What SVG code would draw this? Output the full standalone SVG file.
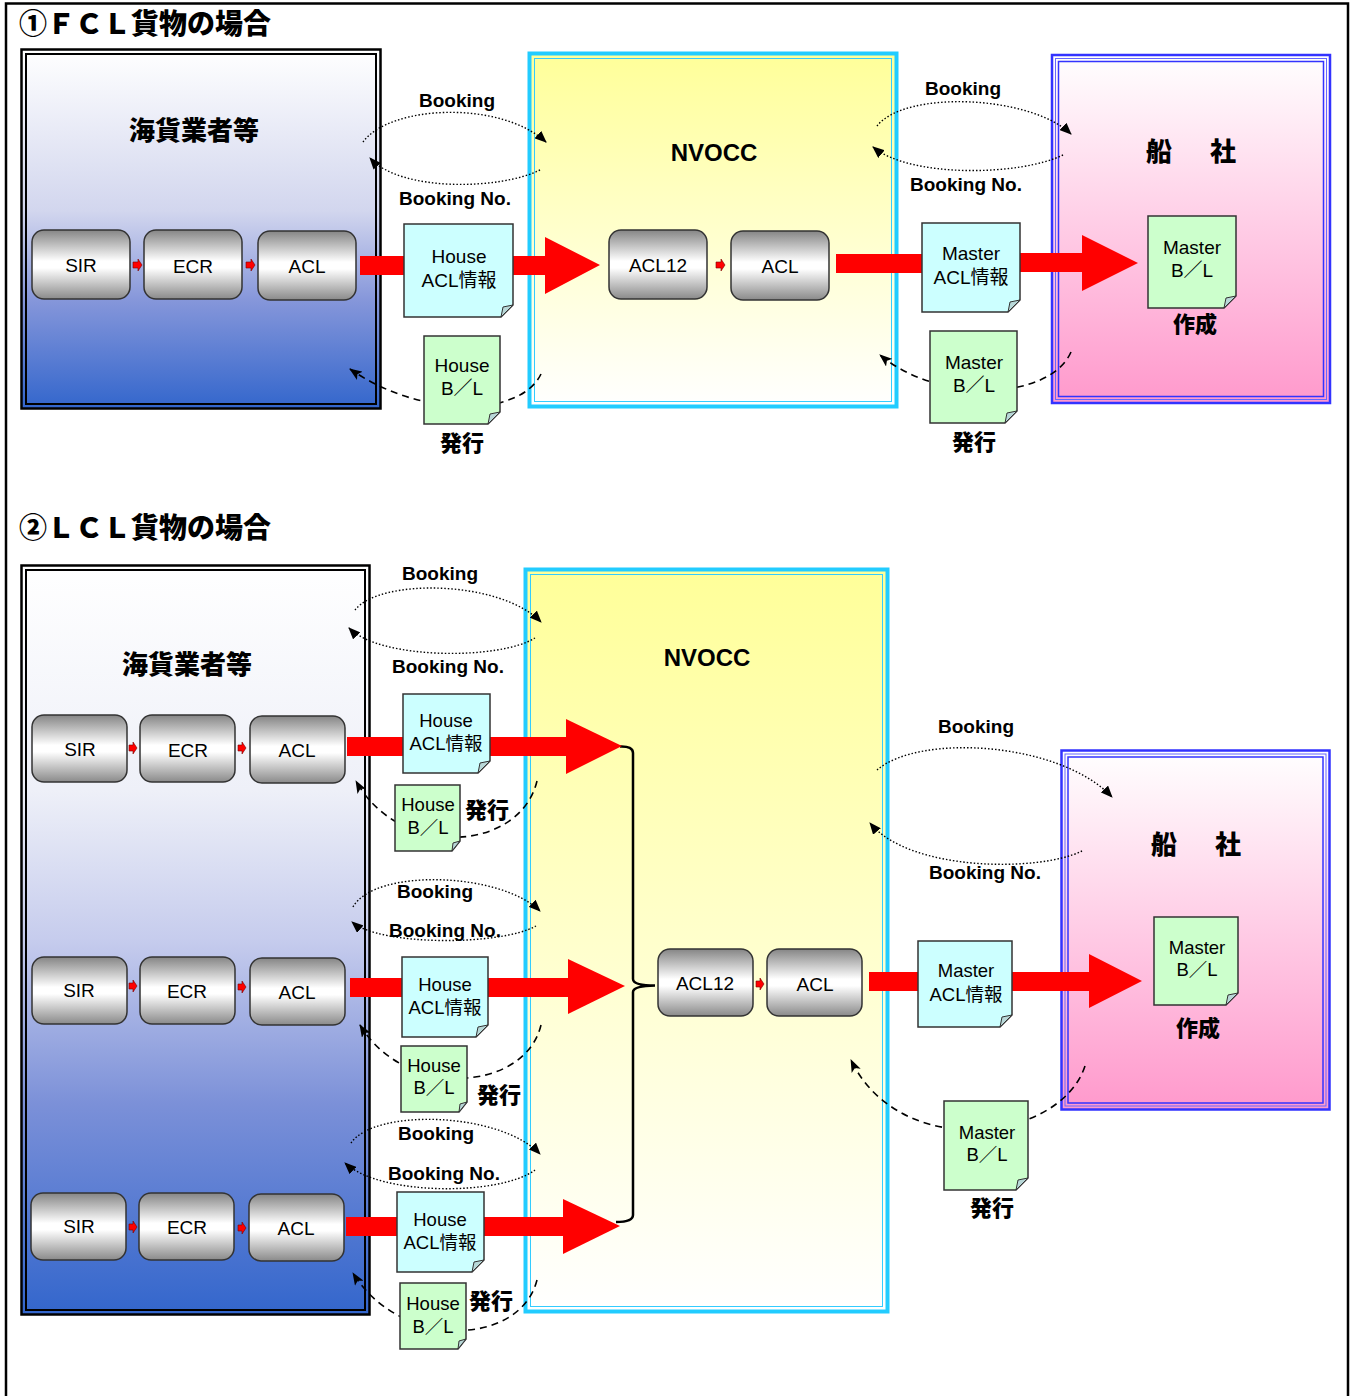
<svg xmlns="http://www.w3.org/2000/svg" width="1356" height="1396" viewBox="0 0 1356 1396">
<defs>
<linearGradient id="gBlue" x1="0" y1="0" x2="0" y2="1">
<stop offset="0" stop-color="#ffffff"/><stop offset="0.45" stop-color="#d2d6ee"/><stop offset="0.7" stop-color="#8596da"/><stop offset="1" stop-color="#3366cc"/>
</linearGradient>
<linearGradient id="gBlue2" x1="0" y1="0" x2="0" y2="1">
<stop offset="0" stop-color="#ffffff"/><stop offset="0.3" stop-color="#eef0f8"/><stop offset="0.5" stop-color="#c6cced"/><stop offset="0.72" stop-color="#7b90d8"/><stop offset="1" stop-color="#3366cc"/>
</linearGradient>
<linearGradient id="gYel" x1="0" y1="0" x2="0" y2="1">
<stop offset="0" stop-color="#ffff99"/><stop offset="1" stop-color="#ffffff"/>
</linearGradient>
<linearGradient id="gPink" x1="0" y1="0" x2="0" y2="1">
<stop offset="0" stop-color="#ffffff"/><stop offset="1" stop-color="#ff99cc"/>
</linearGradient>
<linearGradient id="gGray" x1="0" y1="0" x2="0" y2="1">
<stop offset="0" stop-color="#858585"/><stop offset="0.45" stop-color="#ffffff"/><stop offset="0.55" stop-color="#ffffff"/><stop offset="1" stop-color="#8a8a8a"/>
</linearGradient>
<marker id="mDot" markerWidth="12" markerHeight="10" refX="11" refY="5" orient="auto" markerUnits="userSpaceOnUse">
<path d="M0,0 L12,5 L0,10 Z" fill="#000"/>
</marker>
<marker id="mDash" markerWidth="13" markerHeight="10" refX="12" refY="5" orient="auto" markerUnits="userSpaceOnUse">
<path d="M0,0 L13,5 L0,10 L3,5 Z" fill="#000"/>
</marker>
<style>
text{font-family:"Liberation Sans","Noto Sans CJK JP",sans-serif;fill:#000;text-anchor:middle}
.ttl{font-family:"Noto Sans CJK JP",sans-serif;font-weight:900;font-size:28px;text-anchor:start}
.hd{font-family:"Noto Sans CJK JP",sans-serif;font-weight:900;font-size:26px}
.sj{letter-spacing:6px}
.nv{font-weight:bold;font-size:24px}
.bx{font-size:19px}
.dc{font-size:19px}
.dc2{font-size:18.5px}
.bk{font-weight:bold;font-size:19px}
.jb{font-family:"Noto Sans CJK JP",sans-serif;font-weight:900;font-size:22px}
.rb{fill:url(#gGray);stroke:#333;stroke-width:1.5}
.doc{fill:#ccffff;stroke:#333;stroke-width:1.5}
.docg{fill:#ccffcc;stroke:#333;stroke-width:1.5}
.fold{fill:#b8d8d8;stroke:#333;stroke-width:1}
.red{fill:#ff0000}
.sa{fill:#ff0000;stroke:#700;stroke-width:0.6}
.dot{fill:none;stroke:#000;stroke-width:1.4;stroke-dasharray:1.5 2;marker-end:url(#mDot)}
.dash{fill:none;stroke:#000;stroke-width:1.6;stroke-dasharray:7 5;marker-end:url(#mDash)}
</style>
</defs>

<rect width="1356" height="1396" fill="#fff"/>
<g id="frame" fill="none" stroke="#000" stroke-width="2.5">
<path d="M6,1396 V3.5 H1348 V1396"/>
</g>

<!-- ===== Section 1 ===== -->
<text class="ttl" x="19" y="34">①ＦＣＬ貨物の場合</text>

<g id="kaika1">
<rect x="21.5" y="49.5" width="359" height="359" fill="url(#gBlue)" stroke="#000" stroke-width="2.5"/>
<rect x="26" y="54" width="350" height="350" fill="none" stroke="#000" stroke-width="2"/>
<text class="hd" x="194" y="140">海貨業者等</text>
</g>

<g id="nvocc1">
<rect x="529.5" y="53.5" width="367" height="353" fill="url(#gYel)" stroke="#22ccff" stroke-width="4"/>
<rect x="534.5" y="58.5" width="357" height="343" fill="none" stroke="#33ccff" stroke-width="1"/>
<text class="nv" x="714" y="161">NVOCC</text>
</g>

<g id="senja1">
<rect x="1052" y="55" width="278" height="348" fill="url(#gPink)" stroke="#3333ff" stroke-width="2.5"/>
<rect x="1055.5" y="58.5" width="271" height="341" fill="none" stroke="#6666ff" stroke-width="1"/>
<rect x="1058.5" y="61.5" width="265" height="335" fill="none" stroke="#3333ff" stroke-width="1.5"/>
<text class="hd sj" x="1194" y="161">船　社</text>
</g>

<g id="connectors1">
<path class="dot" d="M363,142 C390,105 500,100 546,142"/>
<path class="dot" d="M540,170 C500,190 400,192 370,158"/>
<path class="dot" d="M877,126 C905,90 1030,95 1071,134"/>
<path class="dot" d="M1063,155 C1020,176 910,178 873,147"/>
<path class="dash" d="M541,374 C520,418 420,418 350,369"/>
<path class="dash" d="M1071,352 C1050,400 940,405 880,355"/>
<rect class="red" x="360" y="256" width="50" height="19"/>
<polygon class="red" points="513,256 545,256 545,237 600,265 545,294 545,275 513,275"/>
<rect class="red" x="836" y="254" width="90" height="19"/>
<polygon class="red" points="1020,253 1082,253 1082,235 1138,263 1082,291 1082,272 1020,272"/>
<polygon class="sa" points="133,262 138,262 138,259 142,265 138,271 138,268 133,268"/>
<polygon class="sa" points="246,262 251,262 251,259 255,265 251,271 251,268 246,268"/>
<polygon class="sa" points="716,262 721,262 721,259 725,265 721,271 721,268 716,268"/>
</g>

<g id="sir1"><rect class="rb" x="32" y="230" width="98" height="69" rx="12"/><text class="bx" x="81" y="272">SIR</text></g>
<g id="ecr1"><rect class="rb" x="144" y="230" width="98" height="69" rx="12"/><text class="bx" x="193" y="273">ECR</text></g>
<g id="acl1"><rect class="rb" x="258" y="231" width="98" height="69" rx="12"/><text class="bx" x="307" y="273">ACL</text></g>
<g id="acl12n1"><rect class="rb" x="609" y="230" width="98" height="69" rx="12"/><text class="bx" x="658" y="272">ACL12</text></g>
<g id="acln1"><rect class="rb" x="731" y="231" width="98" height="69" rx="12"/><text class="bx" x="780" y="273">ACL</text></g>

<g id="hacl1">
<path class="doc" d="M404,224 H513 V305 L501,317 H404 Z"/><path class="fold" d="M501,317 L503,307 L513,305 Z"/>
<text class="dc" x="459" y="263">House</text><text class="dc" x="459" y="287">ACL情報</text>
</g>
<g id="hbl1">
<path class="docg" d="M424,336 H500 V412 L488,424 H424 Z"/><path class="fold" d="M488,424 L490,414 L500,412 Z"/>
<text class="dc" x="462" y="372">House</text><text class="dc" x="462" y="395">B／L</text>
<text class="jb" x="462" y="451">発行</text>
</g>
<g id="macl1">
<path class="doc" d="M922,223 H1020 V300 L1008,312 H922 Z"/><path class="fold" d="M1008,312 L1010,302 L1020,300 Z"/>
<text class="dc" x="971" y="260">Master</text><text class="dc" x="971" y="284">ACL情報</text>
</g>
<g id="mbl1">
<path class="docg" d="M1148,216 H1236 V296 L1224,308 H1148 Z"/><path class="fold" d="M1224,308 L1226,298 L1236,296 Z"/>
<text class="dc" x="1192" y="254">Master</text><text class="dc" x="1192" y="277">B／L</text>
<text class="jb" x="1195" y="332">作成</text>
</g>
<g id="mbli1">
<path class="docg" d="M930,331 H1017 V411 L1005,423 H930 Z"/><path class="fold" d="M1005,423 L1007,413 L1017,411 Z"/>
<text class="dc" x="974" y="369">Master</text><text class="dc" x="974" y="392">B／L</text>
<text class="jb" x="974" y="450">発行</text>
</g>
<g id="labels1">
<text class="bk" x="457" y="107">Booking</text>
<text class="bk" x="455" y="205">Booking No.</text>
<text class="bk" x="963" y="95">Booking</text>
<text class="bk" x="966" y="191">Booking No.</text>
</g>

<!-- ===== Section 2 ===== -->
<text class="ttl" x="19" y="538">②ＬＣＬ貨物の場合</text>

<g id="kaika2">
<rect x="21.5" y="565.5" width="348" height="749" fill="url(#gBlue2)" stroke="#000" stroke-width="2.5"/>
<rect x="26" y="570" width="339" height="740" fill="none" stroke="#000" stroke-width="2"/>
<text class="hd" x="187" y="674">海貨業者等</text>
</g>

<g id="nvocc2">
<rect x="525.5" y="569.5" width="362" height="742" fill="url(#gYel)" stroke="#22ccff" stroke-width="4"/>
<rect x="530.5" y="574.5" width="352" height="732" fill="none" stroke="#33ccff" stroke-width="1"/>
<text class="nv" x="707" y="666">NVOCC</text>
</g>

<g id="senja2">
<rect x="1061.5" y="750.5" width="268" height="359" fill="url(#gPink)" stroke="#3333ff" stroke-width="2.5"/>
<rect x="1065" y="754" width="261" height="352" fill="none" stroke="#6666ff" stroke-width="1"/>
<rect x="1068" y="757" width="255" height="346" fill="none" stroke="#3333ff" stroke-width="1.5"/>
<text class="hd sj" x="1199" y="854">船　社</text>
</g>

<g id="connectors2">
<path class="dot" d="M355,610 C380,578 500,580 541,622"/>
<path class="dot" d="M535,638 C500,660 380,660 349,628"/>
<path class="dot" d="M353,907 C375,868 500,872 540,911"/>
<path class="dot" d="M536,926 C500,946 380,946 352,922"/>
<path class="dot" d="M351,1143 C375,1108 500,1112 540,1154"/>
<path class="dot" d="M535,1170 C500,1196 380,1196 345,1163"/>
<path class="dot" d="M877,770 C920,733 1060,742 1112,797"/>
<path class="dot" d="M1082,851 C1040,872 910,872 870,823"/>
<path class="dash" d="M537,781 C520,852 400,860 356,781"/>
<path class="dash" d="M541,1025 C525,1092 405,1100 360,1025"/>
<path class="dash" d="M537,1280 C520,1347 400,1350 353,1273"/>
<path class="dash" d="M1085,1066 C1060,1142 900,1162 851,1060"/>
<path d="M620,746.5 Q633,746 633,753 V979 Q633,985.5 655,985.5 Q633,986 633,992 V1215 Q633,1222 616,1222" fill="none" stroke="#000" stroke-width="2.5"/>
<rect class="red" x="347" y="737" width="223" height="19"/>
<polygon class="red" points="566,719 622,746 566,774"/>
<rect class="red" x="350" y="978" width="222" height="19"/>
<polygon class="red" points="568,959 625,986 568,1014"/>
<rect class="red" x="346" y="1217" width="221" height="19"/>
<polygon class="red" points="563,1199 620,1226 563,1254"/>
<rect class="red" x="869" y="972" width="52" height="19"/>
<polygon class="red" points="1012,972 1089,972 1089,954 1142,981 1089,1008 1089,991 1012,991"/>
<polygon class="sa" points="129,745 133,745 133,742 137,748 133,754 133,751 129,751"/>
<polygon class="sa" points="238,745 242,745 242,742 246,748 242,754 242,751 238,751"/>
<polygon class="sa" points="129,983 133,983 133,980 137,986 133,992 133,989 129,989"/>
<polygon class="sa" points="238,984 242,984 242,981 246,987 242,993 242,990 238,990"/>
<polygon class="sa" points="129,1224 133,1224 133,1221 137,1227 133,1233 133,1230 129,1230"/>
<polygon class="sa" points="238,1225 242,1225 242,1222 246,1228 242,1234 242,1231 238,1231"/>
<polygon class="sa" points="756,981 760,981 760,978 764,984 760,990 760,987 756,987"/>
</g>

<g id="sir2a"><rect class="rb" x="32" y="715" width="95" height="67" rx="12"/><text class="bx" x="80" y="756">SIR</text></g>
<g id="ecr2a"><rect class="rb" x="140" y="715" width="95" height="67" rx="12"/><text class="bx" x="188" y="757">ECR</text></g>
<g id="acl2a"><rect class="rb" x="250" y="716" width="95" height="67" rx="12"/><text class="bx" x="297" y="757">ACL</text></g>
<g id="sir2b"><rect class="rb" x="32" y="957" width="95" height="67" rx="12"/><text class="bx" x="79" y="997">SIR</text></g>
<g id="ecr2b"><rect class="rb" x="140" y="957" width="95" height="67" rx="12"/><text class="bx" x="187" y="998">ECR</text></g>
<g id="acl2b"><rect class="rb" x="250" y="958" width="95" height="67" rx="12"/><text class="bx" x="297" y="999">ACL</text></g>
<g id="sir2c"><rect class="rb" x="31" y="1193" width="95" height="67" rx="12"/><text class="bx" x="79" y="1233">SIR</text></g>
<g id="ecr2c"><rect class="rb" x="139" y="1193" width="95" height="67" rx="12"/><text class="bx" x="187" y="1234">ECR</text></g>
<g id="acl2c"><rect class="rb" x="249" y="1194" width="95" height="67" rx="12"/><text class="bx" x="296" y="1235">ACL</text></g>
<g id="acl12n2"><rect class="rb" x="658" y="949" width="95" height="67" rx="12"/><text class="bx" x="705" y="990">ACL12</text></g>
<g id="acln2"><rect class="rb" x="767" y="949" width="95" height="67" rx="12"/><text class="bx" x="815" y="991">ACL</text></g>

<g id="hacl2a">
<path class="doc" d="M403,694 H490 V761 L478,773 H403 Z"/><path class="fold" d="M478,773 L480,763 L490,761 Z"/>
<text class="dc2" x="446" y="727">House</text><text class="dc2" x="446" y="750">ACL情報</text>
</g>
<g id="hacl2b">
<path class="doc" d="M402,957 H488 V1025 L476,1037 H402 Z"/><path class="fold" d="M476,1037 L478,1027 L488,1025 Z"/>
<text class="dc2" x="445" y="991">House</text><text class="dc2" x="445" y="1014">ACL情報</text>
</g>
<g id="hacl2c">
<path class="doc" d="M397,1192 H484 V1260 L472,1272 H397 Z"/><path class="fold" d="M472,1272 L474,1262 L484,1260 Z"/>
<text class="dc2" x="440" y="1226">House</text><text class="dc2" x="440" y="1249">ACL情報</text>
</g>
<g id="hbl2a">
<path class="docg" d="M395,785 H460 V841 L452,851 H395 Z"/><path class="fold" d="M452,851 L453,843 L460,841 Z"/>
<text class="dc2" x="428" y="811">House</text><text class="dc2" x="428" y="834">B／L</text>
<text class="jb" x="487" y="818">発行</text>
</g>
<g id="hbl2b">
<path class="docg" d="M401,1046 H467 V1102 L459,1112 H401 Z"/><path class="fold" d="M459,1112 L460,1104 L467,1102 Z"/>
<text class="dc2" x="434" y="1072">House</text><text class="dc2" x="434" y="1094">B／L</text>
<text class="jb" x="499" y="1103">発行</text>
</g>
<g id="hbl2c">
<path class="docg" d="M400,1283 H466 V1339 L458,1349 H400 Z"/><path class="fold" d="M458,1349 L459,1341 L466,1339 Z"/>
<text class="dc2" x="433" y="1310">House</text><text class="dc2" x="433" y="1333">B／L</text>
<text class="jb" x="491" y="1309">発行</text>
</g>
<g id="macl2">
<path class="doc" d="M918,941 H1012 V1015 L1000,1027 H918 Z"/><path class="fold" d="M1000,1027 L1002,1017 L1012,1015 Z"/>
<text class="dc2" x="966" y="977">Master</text><text class="dc2" x="966" y="1001">ACL情報</text>
</g>
<g id="mbl2">
<path class="docg" d="M1154,917 H1238 V993 L1226,1005 H1154 Z"/><path class="fold" d="M1226,1005 L1228,995 L1238,993 Z"/>
<text class="dc2" x="1197" y="954">Master</text><text class="dc2" x="1197" y="976">B／L</text>
<text class="jb" x="1198" y="1036">作成</text>
</g>
<g id="mbli2">
<path class="docg" d="M944,1101 H1028 V1178 L1016,1190 H944 Z"/><path class="fold" d="M1016,1190 L1018,1180 L1028,1178 Z"/>
<text class="dc2" x="987" y="1139">Master</text><text class="dc2" x="987" y="1161">B／L</text>
<text class="jb" x="992" y="1216">発行</text>
</g>
<g id="labels2">
<text class="bk" x="440" y="580">Booking</text>
<text class="bk" x="448" y="673">Booking No.</text>
<text class="bk" x="435" y="898">Booking</text>
<text class="bk" x="445" y="937">Booking No.</text>
<text class="bk" x="436" y="1140">Booking</text>
<text class="bk" x="444" y="1180">Booking No.</text>
<text class="bk" x="976" y="733">Booking</text>
<text class="bk" x="985" y="879">Booking No.</text>
</g>
</svg>
